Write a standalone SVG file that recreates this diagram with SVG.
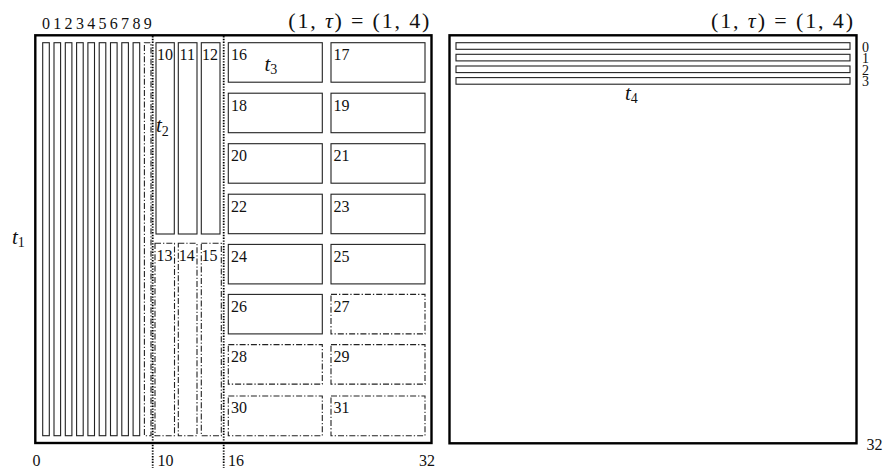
<svg xmlns="http://www.w3.org/2000/svg" width="889" height="470" viewBox="0 0 889 470">
<style>
text{font-family:"Liberation Serif","Times New Roman",serif;fill:#111}
.n{font-size:16px}
.r{font-size:14px}
.m{font-size:21px;font-style:italic}
.s{font-size:14px;font-style:normal}
.frame{fill:none;stroke:#000;stroke-width:2.4}
.c{fill:#fff;stroke:#222;stroke-width:1.1}
.dd{fill:none;stroke:#222;stroke-width:1.1;stroke-dasharray:6 2 1.3 2}
.dot{fill:none;stroke:#000;stroke-width:1.8;stroke-dasharray:1.4 1.4}
.eq{font-size:22px}
</style>
<rect width="889" height="470" fill="#fff"/>
<g id="left-frame"><rect class="frame" x="35.3" y="35.3" width="396.2" height="407.7"/></g>
<g id="right-frame"><rect class="frame" x="449.5" y="35.3" width="407" height="408"/></g>
<g id="columns">
<rect class="c" x="42.7" y="42.7" width="6.6" height="393"/>
<rect class="c" x="54" y="42.7" width="6.6" height="393"/>
<rect class="c" x="65.3" y="42.7" width="6.6" height="393"/>
<rect class="c" x="76.6" y="42.7" width="6.6" height="393"/>
<rect class="c" x="87.9" y="42.7" width="6.6" height="393"/>
<rect class="c" x="99.2" y="42.7" width="6.6" height="393"/>
<rect class="c" x="110.5" y="42.7" width="6.6" height="393"/>
<rect class="c" x="121.8" y="42.7" width="6.6" height="393"/>
<rect class="c" x="133.1" y="42.7" width="6.6" height="393"/>
<rect class="dd" x="144.4" y="42.7" width="6.6" height="393"/>
</g>
<g id="c10"><rect class="c" x="156" y="42.7" width="18.3" height="191.3"/><text class="n" x="157" y="60">10</text></g>
<g id="c11"><rect class="c" x="178.3" y="42.7" width="18.7" height="191.3"/><text class="n" x="179.5" y="60">11</text></g>
<g id="c12"><rect class="c" x="201.3" y="42.7" width="18.7" height="191.3"/><text class="n" x="202" y="60">12</text></g>
<g id="c13"><rect class="dd" x="155" y="243.3" width="19.5" height="192.4"/><text class="n" x="156.5" y="260.7">13</text></g>
<g id="c14"><rect class="dd" x="178.3" y="243.3" width="18.7" height="192.4"/><text class="n" x="178.8" y="260.7">14</text></g>
<g id="c15"><rect class="dd" x="201.3" y="243.3" width="20" height="192.4"/><text class="n" x="201.5" y="260.7">15</text></g>
<g id="c16"><rect class="c" x="228.3" y="42.7" width="94" height="39.5"/><text class="n" x="231" y="60">16</text></g>
<g id="c17"><rect class="c" x="331" y="42.7" width="94" height="39.5"/><text class="n" x="333.5" y="60">17</text></g>
<g id="c18"><rect class="c" x="228.3" y="93.2" width="94" height="39.5"/><text class="n" x="231" y="110.5">18</text></g>
<g id="c19"><rect class="c" x="331" y="93.2" width="94" height="39.5"/><text class="n" x="333.5" y="110.5">19</text></g>
<g id="c20"><rect class="c" x="228.3" y="143.7" width="94" height="39.5"/><text class="n" x="231" y="161">20</text></g>
<g id="c21"><rect class="c" x="331" y="143.7" width="94" height="39.5"/><text class="n" x="333.5" y="161">21</text></g>
<g id="c22"><rect class="c" x="228.3" y="194.2" width="94" height="39.5"/><text class="n" x="231" y="211.5">22</text></g>
<g id="c23"><rect class="c" x="331" y="194.2" width="94" height="39.5"/><text class="n" x="333.5" y="211.5">23</text></g>
<g id="c24"><rect class="c" x="228.3" y="244.4" width="94" height="39.5"/><text class="n" x="231" y="261.7">24</text></g>
<g id="c25"><rect class="c" x="331" y="244.4" width="94" height="39.5"/><text class="n" x="333.5" y="261.7">25</text></g>
<g id="c26"><rect class="c" x="228.3" y="294.4" width="94" height="39.5"/><text class="n" x="231" y="311.7">26</text></g>
<g id="c27"><rect class="dd" x="331" y="294.4" width="94" height="39.5"/><text class="n" x="333.5" y="311.7">27</text></g>
<g id="c28"><rect class="dd" x="228.3" y="344.6" width="94" height="39.5"/><text class="n" x="231" y="361.9">28</text></g>
<g id="c29"><rect class="dd" x="331" y="344.6" width="94" height="39.5"/><text class="n" x="333.5" y="361.9">29</text></g>
<g id="c30"><rect class="dd" x="228.3" y="396" width="94" height="39.7"/><text class="n" x="231" y="413.3">30</text></g>
<g id="c31"><rect class="dd" x="331" y="396" width="94" height="39.7"/><text class="n" x="333.5" y="413.3">31</text></g>
<g id="strips">
<rect class="c" x="456" y="42.7" width="394" height="6.6"/>
<rect class="c" x="456" y="54.3" width="394" height="6.6"/>
<rect class="c" x="456" y="66" width="394" height="6.6"/>
<rect class="c" x="456" y="77.6" width="394" height="6.6"/>
</g>
<g id="connectors">
<line class="dot" x1="152.7" y1="36" x2="152.7" y2="468"/>
<line class="dot" x1="223.7" y1="36" x2="223.7" y2="468"/>
</g>
<g id="labels">
<g class="n" text-anchor="middle">
<text x="46" y="28.5">0</text><text x="57.3" y="28.5">1</text><text x="68.6" y="28.5">2</text><text x="79.9" y="28.5">3</text><text x="91.2" y="28.5">4</text><text x="102.5" y="28.5">5</text><text x="113.8" y="28.5">6</text><text x="125.1" y="28.5">7</text><text x="136.4" y="28.5">8</text><text x="147.7" y="28.5">9</text>
</g>
<text class="eq" x="288.3" y="27.5" textLength="141" lengthAdjust="spacing">(1, <tspan font-style="italic">τ</tspan>) = (1, 4)</text>
<text class="eq" x="711" y="27.5" textLength="142" lengthAdjust="spacing">(1, <tspan font-style="italic">τ</tspan>) = (1, 4)</text>
<text class="m" x="12" y="243.5">t<tspan class="s" dy="3.5">1</tspan></text>
<text class="m" x="156" y="132">t<tspan class="s" dy="3.5">2</tspan></text>
<text class="m" x="264.5" y="70.5">t<tspan class="s" dy="3.5">3</tspan></text>
<text class="m" x="625" y="99.5">t<tspan class="s" dy="3.5">4</tspan></text>
<text class="r" x="862" y="51.5">0</text>
<text class="r" x="862" y="63">1</text>
<text class="r" x="862" y="74.5">2</text>
<text class="r" x="862" y="86">3</text>
<text class="n" x="32.5" y="465.5">0</text>
<text class="n" x="157.5" y="466">10</text>
<text class="n" x="228" y="466">16</text>
<text class="n" x="419" y="466">32</text>
<text class="n" x="866.5" y="450">32</text>
</g>
</svg>
